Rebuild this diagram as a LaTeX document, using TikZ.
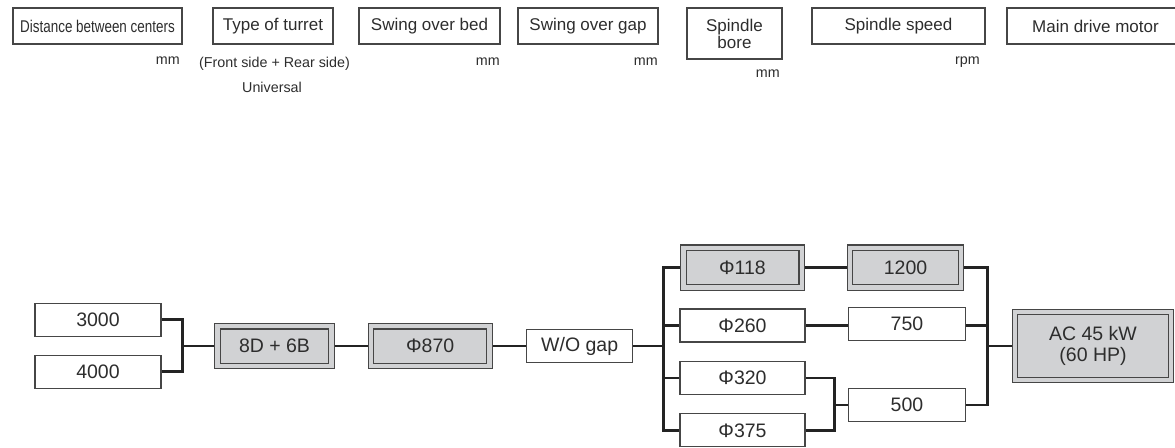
\documentclass[tikz,border=0pt]{standalone}
\usepackage{graphicx}
\usepackage{fontspec}
\setmainfont{Liberation Sans}
\usetikzlibrary{backgrounds}
\definecolor{boxgray}{RGB}{209,210,212}
\definecolor{boxline}{RGB}{70,70,70}
\definecolor{wireline}{RGB}{35,35,35}
\definecolor{txtgray}{RGB}{45,45,45}
\tikzset{%
  header/.style = {shape=rectangle, draw=boxline, line width=1.1pt,%
                   minimum height=36pt, inner sep=0pt, align=center,%
                   text=txtgray, font=\fontsize{17}{17}\selectfont},%
  unit/.style   = {inner sep=0pt, text=txtgray,%
                   font=\fontsize{14.3}{16}\selectfont},%
  choice/.style = {shape=rectangle, draw=boxline, line width=1.1pt,%
                   fill=white, minimum height=33pt, inner sep=0pt,%
                   align=center, text=txtgray,%
                   font=\fontsize{19.5}{21.5}\selectfont},%
  std/.style    = {choice, fill=boxgray, double=boxgray,%
                   double distance=4.4pt, minimum height=39.6pt},%
  wire/.style   = {draw=wireline, line width=2.7pt}%
}
\begin{document}
\begin{tikzpicture}[x=1pt,y=-1pt]
	\useasboundingbox (0,0) rectangle (1175,447);
	\node[header, minimum width=169pt] (hdist) at (97.5,26) {\scalebox{0.79}[1]{Distance between centers}};
	\node[header, minimum width=120pt] (hturret) at (273,26) {Type of turret};
	\node[header, minimum width=141pt] (hbed) at (429.5,26) {Swing over bed};
	\node[header, minimum width=140pt] (hgap) at (588,26) {Swing over gap};
	\node[header, minimum width=95pt, minimum height=51pt] (hbore) at (734.5,33.5) {Spindle\\bore};
	\node[header, minimum width=173pt] (hspeed) at (898.5,26) {Spindle speed};
	\node[header, minimum width=180pt] (hmotor) at (1097,26) {\hspace*{-3pt}Main drive motor};
	\node[unit, anchor=base east] (udist) at (180,64) {mm};
	\node[unit, anchor=base] (uturret) at (274.5,67) {(Front side + Rear side)};
	\node[unit, anchor=base] (uuniv) at (272,92) {Universal};
	\node[unit, anchor=base east] (ubed) at (500,65) {mm};
	\node[unit, anchor=base east] (ugap) at (658,65) {mm};
	\node[unit, anchor=base east] (ubore) at (780,77) {mm};
	\node[unit, anchor=base east] (uspeed) at (980,64) {rpm};

	\node[choice, minimum width=126pt] (c3000) at (98,319.7) {3000};
	\node[choice, minimum width=126pt] (c4000) at (98,371.7) {4000};
	\node[std, minimum width=113.8pt] (t8d6b) at (274.5,346) {8D + 6B};
	\node[std, minimum width=118.4pt] (s870) at (430.2,346) {Φ870};
	\node[choice, minimum width=106pt] (wogap) at (579.7,346) {W/O gap};
	\node[std, minimum width=118.4pt] (b118) at (742.5,267.5) {Φ118};
	\node[choice, minimum width=125pt] (b260) at (742.5,325.5) {Φ260};
	\node[choice, minimum width=125pt] (b320) at (742.5,378) {Φ320};
	\node[choice, minimum width=125pt] (b375) at (742.5,430.3) {Φ375};
	\node[std, minimum width=111pt] (r1200) at (905.5,267.5) {1200};
	\node[choice, minimum width=117.3pt] (r750) at (907,324) {750};
	\node[choice, minimum width=117.3pt] (r500) at (907,405) {500};
	\node[std, minimum width=156pt, minimum height=67.8pt] (ac45) at (1093,346) {AC 45 kW\\(60 HP)};

	\coordinate (j1) at (182.3,346);
	\coordinate (j2) at (663.3,346);
	\coordinate (j3) at (834.3,405);
	\coordinate (j4) at (987.3,346);
	\begin{pgfonlayer}{background}
		\draw[wire] (c3000.east) -| (j1) |- (c4000.east);
		\draw[wire] (j1) -- (t8d6b.west);
		\draw[wire] (t8d6b.east) -- (s870.west);
		\draw[wire] (s870.east) -- (wogap.west);
		\draw[wire] (wogap.east) -- (j2);
		\draw[wire] (b118.west) -| (j2) |- (b375.west);
		\draw[wire] (j2 |- b260.west) -- (b260.west);
		\draw[wire] (j2 |- b320.west) -- (b320.west);
		\draw[wire] (b118.east) -- (r1200.west);
		\draw[wire] (b260.east) -- (b260.east -| r750.west);
		\draw[wire] (b320.east) -| (j3) |- (b375.east);
		\draw[wire] (j3) -- (r500.west);
		\draw[wire] (r1200.east) -| (j4) |- (r500.east);
		\draw[wire] (j4 |- b260.east) -- (b260.east -| r750.east);
		\draw[wire] (j4) -- (ac45.west);
	\end{pgfonlayer}
\end{tikzpicture}
\end{document}
